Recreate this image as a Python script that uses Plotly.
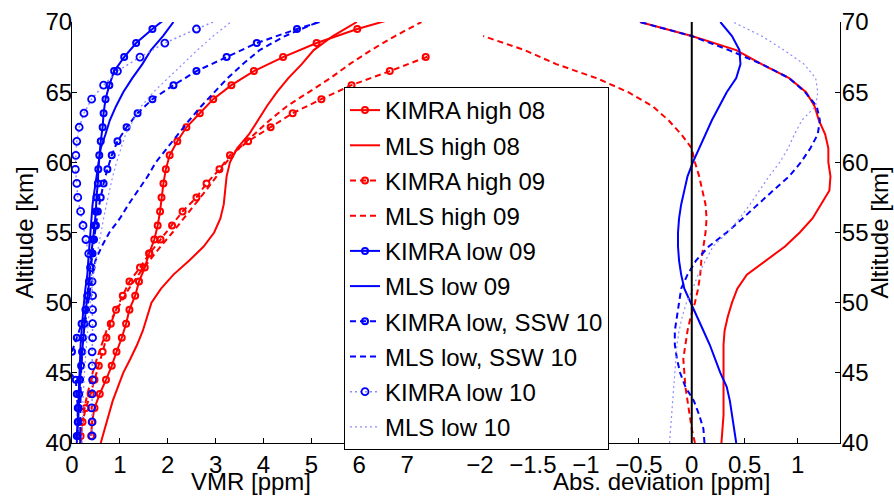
import plotly.graph_objects as go

# Altitude grids [km]
alt_kimra = [40.5, 41.5, 42.5, 43.5, 44.5, 45.5, 46.5, 47.5, 48.5, 49.5, 50.5, 51.5, 52.5, 53.5, 54.5,
             55.5, 56.5, 57.5, 58.5, 59.5, 60.5, 61.5, 62.5, 63.5, 64.5, 65.5, 66.5, 67.5, 68.5, 69.5, 70.5]
alt_mls = [40, 41, 42, 43, 44, 45, 46, 47, 48, 49, 50, 51, 52, 53, 54, 55, 56, 57, 58, 59, 60,
           61, 62, 63, 64, 65, 66, 67, 68, 69, 70]
alt_dev09 = [40, 41, 42, 43, 44, 45, 46, 47, 48, 49, 50, 51, 52, 53, 54, 55, 56, 57, 58, 59, 60,
             61, 62, 63, 64, 65, 66, 67, 68, 69]

# VMR profiles [ppm]
kimra_high_08 = [0.40, 0.42, 0.47, 0.58, 0.71, 0.83, 0.93, 1.04, 1.13, 1.20, 1.32, 1.40, 1.52, 1.61, 1.72,
                 1.79, 1.84, 1.87, 1.91, 1.96, 2.04, 2.20, 2.39, 2.67, 2.95, 3.33, 3.80, 4.41, 5.11, 5.96, 6.98]
mls_high_08 = [0.60, 0.68, 0.76, 0.85, 0.96, 1.07, 1.22, 1.36, 1.48, 1.57, 1.66, 1.86, 2.12, 2.45, 2.75,
               2.97, 3.10, 3.17, 3.20, 3.23, 3.30, 3.45, 3.70, 3.88, 4.07, 4.28, 4.52, 4.80, 5.05, 5.45, 5.95]
kimra_high_09 = [0.18, 0.22, 0.29, 0.39, 0.47, 0.56, 0.64, 0.72, 0.81, 0.92, 1.06, 1.20, 1.42, 1.62, 1.85,
                 2.09, 2.31, 2.60, 2.81, 3.08, 3.30, 3.68, 4.15, 4.61, 5.21, 5.84, 6.64, 7.39, 8.10, 8.90, 9.70]
mls_high_09 = [0.19, 0.20, 0.24, 0.29, 0.36, 0.43, 0.52, 0.62, 0.72, 0.85, 1.02, 1.19, 1.39, 1.61, 1.85,
               2.10, 2.34, 2.57, 2.80, 3.02, 3.22, 3.49, 3.82, 4.13, 4.49, 4.95, 5.40, 5.80, 6.25, 6.75, 7.30]
kimra_low_09 = [0.10, 0.13, 0.14, 0.15, 0.17, 0.19, 0.21, 0.23, 0.26, 0.29, 0.33, 0.36, 0.38, 0.40, 0.44,
                0.47, 0.50, 0.51, 0.54, 0.55, 0.57, 0.60, 0.64, 0.66, 0.70, 0.78, 0.88, 1.09, 1.34, 1.68, 2.05]
mls_low_09 = [0.10, 0.11, 0.12, 0.13, 0.15, 0.16, 0.17, 0.18, 0.20, 0.22, 0.25, 0.28, 0.32, 0.34, 0.36,
              0.38, 0.40, 0.43, 0.47, 0.51, 0.55, 0.60, 0.70, 0.79, 0.92, 1.07, 1.26, 1.47, 1.65, 1.90, 2.12]
kimra_low_ssw_10 = [0.12, 0.12, 0.12, 0.10, 0.08, -0.15, 0.00, 0.10, 0.20, 0.28, 0.32, 0.36, 0.40, 0.43, 0.46,
                    0.50, 0.54, 0.60, 0.66, 0.74, 0.83, 0.95, 1.14, 1.37, 1.68, 2.12, 2.60, 3.23, 3.86, 4.70, 5.66]
mls_low_ssw_10 = [0.17, 0.17, 0.17, 0.18, 0.18, 0.19, 0.20, 0.22, 0.25, 0.29, 0.33, 0.38, 0.43, 0.49, 0.62,
                  0.78, 1.00, 1.18, 1.38, 1.58, 1.75, 1.98, 2.22, 2.45, 2.70, 2.97, 3.25, 3.57, 3.92, 4.45, 5.14]
kimra_low_10 = [0.42, 0.42, 0.41, 0.42, 0.43, 0.42, 0.42, 0.43, 0.43, 0.43, 0.43, 0.42, 0.40, 0.35, 0.29,
                0.23, 0.18, 0.12, 0.10, 0.07, 0.08, 0.10, 0.15, 0.25, 0.41, 0.66, 0.95, 1.42, 1.94, 2.60, 3.30]
mls_low_10 = [0.21, 0.21, 0.22, 0.23, 0.24, 0.26, 0.28, 0.30, 0.33, 0.35, 0.38, 0.41, 0.45, 0.50, 0.55,
              0.60, 0.66, 0.72, 0.78, 0.85, 0.93, 1.02, 1.12, 1.28, 1.45, 1.70, 2.00, 2.30, 2.62, 2.95, 3.32]

# Absolute deviations [ppm]
dev_high_08 = [0.28, 0.29, 0.30, 0.30, 0.30, 0.30, 0.30, 0.30, 0.31, 0.34, 0.38, 0.43, 0.52, 0.70, 0.88,
               1.02, 1.14, 1.22, 1.30, 1.31, 1.29, 1.29, 1.26, 1.20, 1.16, 1.08, 0.92, 0.66, 0.42, 0.00, -0.49]
dev_high_09 = [0.03, 0.00, -0.02, -0.04, -0.06, -0.07, -0.08, -0.06, -0.04, -0.01, 0.03, 0.06, 0.08, 0.09, 0.11,
               0.13, 0.14, 0.13, 0.10, 0.07, 0.03, 0.00, -0.10, -0.22, -0.37, -0.60, -0.90, -1.28, -1.58, -1.97]
dev_low_09 = [0.42, 0.40, 0.38, 0.36, 0.33, 0.27, 0.22, 0.17, 0.11, 0.05, -0.01, -0.07, -0.10, -0.12, -0.13,
              -0.13, -0.12, -0.10, -0.07, -0.04, 0.01, 0.07, 0.13, 0.19, 0.26, 0.33, 0.42, 0.46, 0.45, 0.38, 0.27]
dev_low_ssw_10 = [0.12, 0.11, 0.07, 0.02, -0.06, -0.11, -0.14, -0.16, -0.16, -0.14, -0.12, -0.10, -0.04, 0.04, 0.16,
                  0.33, 0.48, 0.62, 0.77, 0.92, 1.03, 1.12, 1.19, 1.21, 1.18, 1.07, 0.92, 0.66, 0.35, 0.00, -0.49]
dev_low_10 = [-0.21, -0.20, -0.19, -0.18, -0.17, -0.16, -0.15, -0.14, -0.12, -0.09, -0.05, 0.01, 0.06, 0.13, 0.20,
              0.34, 0.45, 0.55, 0.64, 0.73, 0.83, 0.91, 0.97, 1.04, 1.17, 1.19, 1.17, 1.06, 0.87, 0.66, 0.39]

zero_line_x = [0, 0]
zero_line_y = [40, 70]

RED = "#ff0000"
BLUE = "#0000ff"
LBLUE = "#8c8cff"
DASH = "6px,4px"
DOT = "2px,3px"
FONT = "Liberation Sans, Arial, Helvetica, sans-serif"
FS = 24

fig = go.Figure()

def add(x, y, name, color, dash, width, marker=None, xaxis="x", yaxis="y", showlegend=True, group=None):
    mode = "lines+markers" if marker else "lines"
    kw = dict(x=x, y=y, name=name, mode=mode, xaxis=xaxis, yaxis=yaxis,
              line=dict(color=color, dash=dash, width=width),
              showlegend=showlegend, legendgroup=group or name, cliponaxis=True)
    if marker:
        kw["marker"] = marker
    fig.add_trace(go.Scatter(**kw))

mk_red = dict(symbol="circle-open", size=6, color=RED, line=dict(width=2, color=RED))
mk_blue = dict(symbol="circle-open", size=6, color=BLUE, line=dict(width=2, color=BLUE))
mk_blue_o = dict(symbol="circle-open", size=7, color=BLUE, line=dict(width=1.8, color=BLUE))

add(kimra_high_08, alt_kimra, "KIMRA high 08", RED, "solid", 2, mk_red)
add(mls_high_08, alt_mls, "MLS high 08", RED, "solid", 2)
add(kimra_high_09, alt_kimra, "KIMRA high 09", RED, DASH, 2, mk_red)
add(mls_high_09, alt_mls, "MLS high 09", RED, DASH, 2)
add(kimra_low_09, alt_kimra, "KIMRA low 09", BLUE, "solid", 2, mk_blue)
add(mls_low_09, alt_mls, "MLS low 09", BLUE, "solid", 2)
add(kimra_low_ssw_10, alt_kimra, "KIMRA low, SSW 10", BLUE, DASH, 2, mk_blue)
add(mls_low_ssw_10, alt_mls, "MLS low, SSW 10", BLUE, DASH, 2)
add(kimra_low_10, alt_kimra, "KIMRA low 10", LBLUE, DOT, 1.5, mk_blue_o)
add(mls_low_10, alt_mls, "MLS low 10", LBLUE, DOT, 1.2)

# Right panel: deviations
add(dev_high_08, alt_mls, "dev high 08", RED, "solid", 2, xaxis="x2", yaxis="y2", showlegend=False)
add(dev_high_09, alt_dev09, "dev high 09", RED, DASH, 2, xaxis="x2", yaxis="y2", showlegend=False)
add(dev_low_09, alt_mls, "dev low 09", BLUE, "solid", 2, xaxis="x2", yaxis="y2", showlegend=False)
add(dev_low_ssw_10, alt_mls, "dev low SSW 10", BLUE, DASH, 2, xaxis="x2", yaxis="y2", showlegend=False)
add(dev_low_10, alt_mls, "dev low 10", LBLUE, DOT, 1.2, xaxis="x2", yaxis="y2", showlegend=False)
add(zero_line_x, zero_line_y, "zero", "#000000", "solid", 2, xaxis="x2", yaxis="y2", showlegend=False)

axis_common = dict(showgrid=False, zeroline=False, showline=True, linecolor="#000000", linewidth=1,
                   ticks="inside", ticklen=5, tickwidth=1, tickcolor="#000000", automargin=False,
                   tickfont=dict(family=FONT, size=FS, color="#000000"), mirror=False)

ML, MR, MT, MB = 72, 54, 22, 53
W, H = 894, 496
pw = W - ML - MR
ph = H - MT - MB

fig.update_layout(
    width=W, height=H,
    margin=dict(l=ML, r=MR, t=MT, b=MB, pad=0, autoexpand=False),
    paper_bgcolor="#ffffff", plot_bgcolor="#ffffff",
    font=dict(family=FONT, size=FS, color="#000000"),
    xaxis=dict(domain=[0, (431 - ML) / pw], range=[0, 7.5], tickmode="array",
               tickvals=[0, 1, 2, 3, 4, 5, 6, 7], anchor="y", **axis_common),
    yaxis=dict(domain=[0, 1], range=[40, 70], tickmode="array", ticklabelstandoff=-6,
               tickvals=[40, 45, 50, 55, 60, 65, 70], anchor="x", **axis_common),
    xaxis2=dict(domain=[(480 - ML) / pw, 1], range=[-2, 1.4], tickmode="array",
                tickvals=[-2, -1.5, -1, -0.5, 0, 0.5, 1], anchor="y2", **axis_common),
    yaxis2=dict(domain=[0, 1], range=[40, 70], tickmode="array", ticklabelstandoff=-4,
                tickvals=[40, 45, 50, 55, 60, 65, 70], anchor="x2", side="right", **axis_common),
    legend=dict(x=(344 - ML) / pw, y=1 - (87 - MT) / ph, xanchor="left", yanchor="top",
                bgcolor="#ffffff", bordercolor="#000000", borderwidth=1,
                font=dict(family=FONT, size=FS, color="#000000"),
                traceorder="grouped", tracegroupgap=1),
    showlegend=True,
)

fig.add_annotation(text="VMR [ppm]", xref="paper", yref="paper",
                   x=((251 - ML) / pw), y=-(481 - (H - MB)) / ph,
                   showarrow=False, xanchor="center", yanchor="middle",
                   font=dict(family=FONT, size=FS, color="#000000"))
fig.add_annotation(text="Abs. deviation [ppm]", xref="paper", yref="paper",
                   x=((661 - ML) / pw), y=-(481 - (H - MB)) / ph,
                   showarrow=False, xanchor="center", yanchor="middle",
                   font=dict(family=FONT, size=FS, color="#000000"))
fig.add_annotation(text="Altitude [km]", xref="paper", yref="paper",
                   x=(24 - ML) / pw, y=0.5, textangle=-90,
                   showarrow=False, xanchor="center", yanchor="middle",
                   font=dict(family=FONT, size=FS, color="#000000"))
fig.add_annotation(text="Altitude [km]", xref="paper", yref="paper",
                   x=(879 - ML) / pw, y=0.5, textangle=-90,
                   showarrow=False, xanchor="center", yanchor="middle",
                   font=dict(family=FONT, size=FS, color="#000000"))

fig.write_html("out.html", config={"displayModeBar": False},
               post_script="document.body.style.margin='0px';document.body.style.overflow='hidden';")
